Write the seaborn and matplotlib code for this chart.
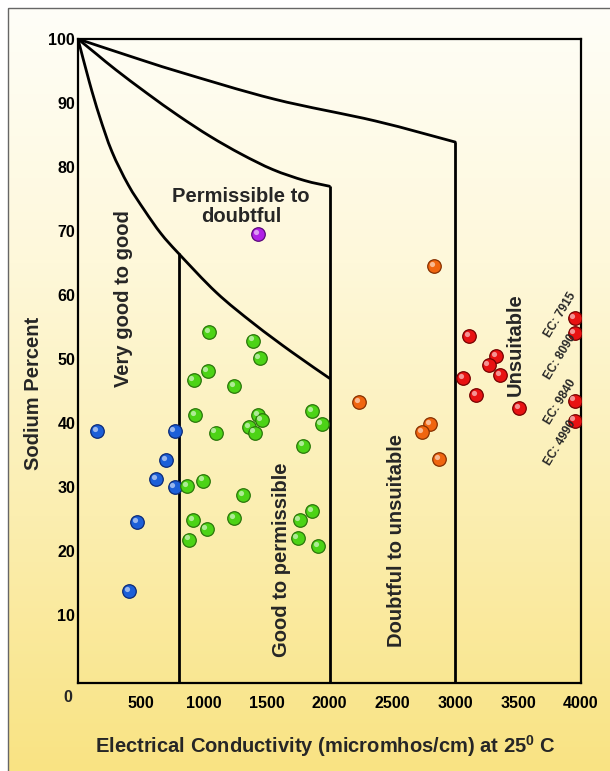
import numpy as np
import pandas as pd
import matplotlib
matplotlib.use("Agg")
import matplotlib.pyplot as plt
import matplotlib.transforms as mtransforms
from matplotlib.patches import Rectangle, PathPatch
from matplotlib.path import Path
from matplotlib.colors import LinearSegmentedColormap
import seaborn as sns

# ---------------- data ----------------
blue_ec = [154, 768, 703, 622, 768, 469, 408]
blue_na = [38.7, 38.7, 34.2, 31.3, 30.0, 24.5, 13.8]

green_ec = [1040, 1390, 1445, 1030, 920, 1240, 930, 1430, 1460, 1360, 1405, 1095, 993,
            870, 1313, 915, 1240, 1023, 885, 1862, 1938, 1792, 1862, 1762, 1746, 1908]
green_na = [54.2, 52.9, 50.2, 48.1, 46.7, 45.8, 41.2, 41.2, 40.5, 39.4, 38.5, 38.5, 31.0,
            30.1, 28.8, 24.8, 25.2, 23.4, 21.8, 41.9, 39.9, 36.5, 26.2, 24.8, 22.0, 20.8]

purple_ec = [1430]
purple_na = [69.5]

orange_ec = [2831, 2237, 2797, 2737, 2873]
orange_na = [64.5, 43.3, 39.9, 38.6, 34.4]

red_ec = [3109, 3328, 3266, 3359, 3062, 3164, 3508, 3950, 3950, 3950, 3950]
red_na = [53.6, 50.5, 49.1, 47.5, 47.0, 44.4, 42.3, 56.4, 54.1, 43.5, 40.4]

# boundary curves of the Wilcox diagram
curve_a_ec = [0, 90, 170, 270, 400, 530, 660, 800, 1100, 1400, 1700, 2000]
curve_a_na = [100, 93.3, 88.0, 82.4, 77.2, 73.2, 69.6, 66.5, 60.4, 55.5, 51.1, 47.0]
curve_b_ec = [0, 150, 300, 550, 800, 1050, 1300, 1550, 1800, 2000]
curve_b_na = [100, 97.6, 95.2, 91.5, 88.0, 84.8, 82.0, 79.6, 77.9, 77.0]
curve_c_ec = [0, 400, 800, 1562, 2364, 3000]
curve_c_na = [100, 97.4, 94.9, 90.6, 87.2, 83.9]
divider_ec = [800, 2000, 3000]
divider_top = [66.5, 77.0, 83.9]

x_ticks = [500, 1000, 1500, 2000, 2500, 3000, 3500, 4000]
y_ticks = [10, 20, 30, 40, 50, 60, 70, 80, 90, 100]

zone_labels = ["Permissible to\ndoubtful", "Very good to good", "Good to permissible",
               "Doubtful to unsuitable", "Unsuitable"]
ec_notes = ["EC: 7915", "EC: 8090", "EC: 9840", "EC: 4990"]

# ---------------- styling ----------------
sns.set_style("white")
plt.rcParams['font.family'] = ['Liberation Sans', 'DejaVu Sans']
plt.rcParams['font.weight'] = 'bold'
plt.rcParams['mathtext.fontset'] = 'custom'
plt.rcParams['mathtext.rm'] = 'Liberation Sans:bold'
plt.rcParams['mathtext.it'] = 'Liberation Sans:bold'
plt.rcParams['mathtext.bf'] = 'Liberation Sans:bold'

W, H = 610, 771
fig = plt.figure(figsize=(W / 100, H / 100), dpi=100)
fig.patch.set_facecolor('white')

# gradient background with frame
bg = fig.add_axes([0, 0, 1, 1], zorder=0)
grad = np.linspace(0, 1, 256)[:, None]
cmap = LinearSegmentedColormap.from_list('bg', ['#FFFEF8', '#FEF8DA', '#FBEEB0', '#F9E383'])
bg.imshow(grad, aspect='auto', cmap=cmap, extent=[8, W, H, 8])
bg.set_xlim(0, W)
bg.set_ylim(H, 0)
bg.axis('off')
bg.add_patch(Rectangle((8, 8), 700, 900, fill=False, ec='#666666', lw=1))

ax = fig.add_axes([78 / W, 1 - 683 / H, 503 / W, 644 / H], zorder=1)
ax.set_facecolor('none')


def smooth_path(xs, ys):
    """Catmull-Rom spline through the given knots, as cubic Bezier path."""
    p = np.column_stack([xs, ys]).astype(float)
    ext = np.vstack([p[0], p, p[-1]])
    verts = [p[0]]
    codes = [Path.MOVETO]
    for i in range(1, len(ext) - 2):
        p0, p1, p2, p3 = ext[i - 1], ext[i], ext[i + 1], ext[i + 2]
        verts += [p1 + (p2 - p0) / 6.0, p2 - (p3 - p1) / 6.0, p2]
        codes += [Path.CURVE4] * 3
    return Path(verts, codes)


# boundaries
for cx, cy in [(curve_a_ec, curve_a_na), (curve_b_ec, curve_b_na), (curve_c_ec, curve_c_na)]:
    ax.add_patch(PathPatch(smooth_path(cx, cy), fill=False, ec='black', lw=2.0,
                           zorder=3, capstyle='round', joinstyle='round'))
ax.vlines(divider_ec, ymin=-0.6, ymax=divider_top, color='black', lw=2.0, zorder=3)

# points
groups = [
    (blue_ec, blue_na, '#1C5FD8', '#0B2A78'),
    (green_ec, green_na, '#4CD316', '#2A760A'),
    (purple_ec, purple_na, '#B021E6', '#5A0A7A'),
    (orange_ec, orange_na, '#F0650F', '#863000'),
    (red_ec, red_na, '#E81212', '#760000'),
]
hl = ax.transData + mtransforms.ScaledTranslation(-1.6 / 72, 1.6 / 72, fig.dpi_scale_trans)
for ex, ny, fc, ecl in groups:
    df = pd.DataFrame({'ec': ex, 'na': ny})
    sns.scatterplot(data=df, x='ec', y='na', ax=ax, color=fc, s=95,
                    edgecolor=ecl, linewidth=0.9, zorder=5, legend=False)
    ax.scatter(df['ec'], df['na'], s=14, color='white', alpha=0.55, lw=0,
               transform=hl, zorder=6)

# zone labels
fs = 14.5
ax.text(1296, 73.8, zone_labels[0], ha='center', va='center', fontsize=fs,
        fontweight='bold', linespacing=1.1, zorder=7)
ax.text(358, 59.4, zone_labels[1], rotation=90, ha='center', va='center',
        fontsize=fs, fontweight='bold', zorder=7)
ax.text(1622, 18.6, zone_labels[2], rotation=90, ha='center', va='center',
        fontsize=fs, fontweight='bold', zorder=7)
ax.text(2529, 21.6, zone_labels[3], rotation=90, ha='center', va='center',
        fontsize=fs, fontweight='bold', zorder=7)
ax.text(3475, 52.2, zone_labels[4], rotation=90, ha='center', va='center',
        fontsize=fs, fontweight='bold', zorder=7)

for note, ny in zip(ec_notes, [56.9, 50.3, 43.3, 36.9]):
    ax.text(3833, ny, note, rotation=59, ha='center', va='center',
            fontsize=8.6, fontweight='bold', zorder=7)

# axes
ax.set_xlim(0, 4000)
ax.set_ylim(-0.6, 100)
ax.set_xticks(x_ticks)
ax.set_xticklabels([str(t) for t in x_ticks])
ax.set_yticks(y_ticks)
ax.set_yticklabels([str(t) for t in y_ticks])
ax.tick_params(axis='both', direction='in', length=16, width=1.1, color='#555555',
               labelsize=11.5, labelcolor='black')
ax.tick_params(axis='x', pad=9)
ax.tick_params(axis='y', pad=2)
for lab in ax.get_xticklabels() + ax.get_yticklabels():
    lab.set_fontweight('bold')
for sp in ax.spines.values():
    sp.set_visible(True)
    sp.set_color('black')
    sp.set_linewidth(1.6)
ax.set_xlabel('')
ax.set_ylabel('')
ax.annotate('0', xy=(0, 0), xycoords='axes fraction', xytext=(-10, -15),
            textcoords='offset pixels', ha='center', va='center',
            fontsize=11.5, fontweight='bold')

fig.text(34 / W, 1 - 393 / H, 'Sodium Percent', rotation=90, ha='center', va='center',
         fontsize=14.5, fontweight='bold')
fig.text(325 / W, 1 - 746 / H, r'Electrical Conductivity (micromhos/cm) at 25$^{0}$ C',
         ha='center', va='center', fontsize=14.5, fontweight='bold')

fig.savefig('out.png', dpi=100, facecolor=fig.get_facecolor())
